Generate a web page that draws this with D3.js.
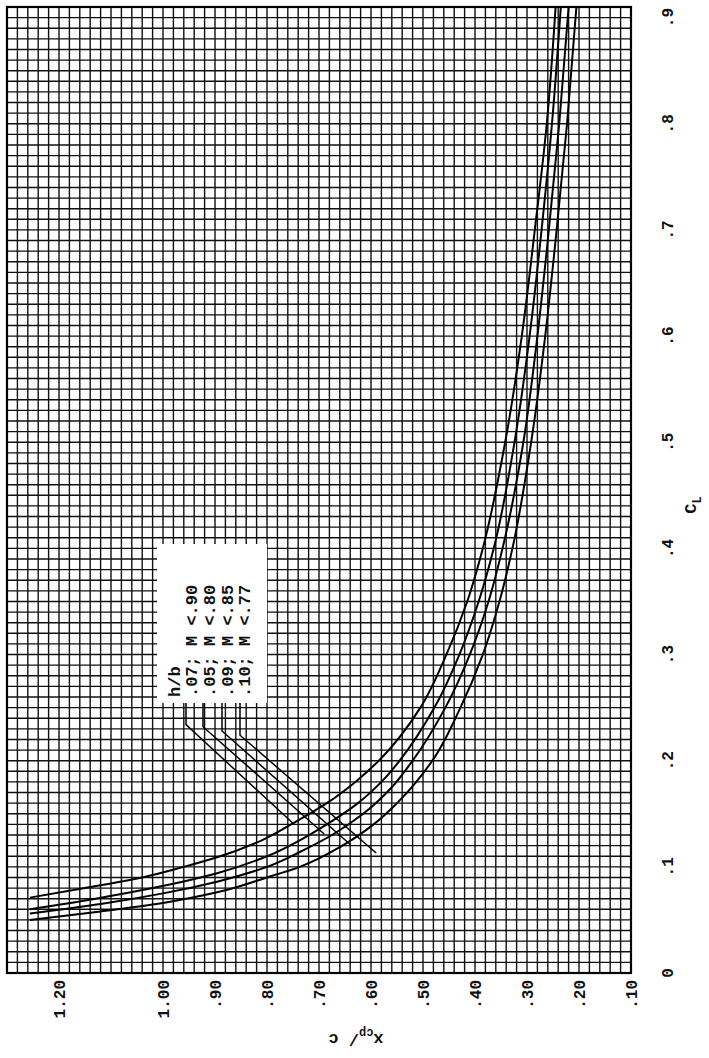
<!DOCTYPE html>
<html><head><meta charset="utf-8">
<script src="https://cdn.jsdelivr.net/npm/d3@7"></script>
<style>body{margin:0;background:#fff}svg{display:block}</style>
</head><body>
<svg id="chart" width="709" height="1058"></svg>
<script>
// ---- data ----
const xTicks = [0, 0.1, 0.2, 0.3, 0.4, 0.5, 0.6, 0.7, 0.8, 0.9];
const xTickLabels = ["0", ".1", ".2", ".3", ".4", ".5", ".6", ".7", ".8", ".9"];
const yTicks = [0.10, 0.20, 0.30, 0.40, 0.50, 0.60, 0.70, 0.80, 0.90, 1.00, 1.20];
const yTickLabels = [".10", ".20", ".30", ".40", ".50", ".60", ".70", ".80", ".90", "1.00", "1.20"];
const legendTitle = "h/b";
const seriesNames = [".07; M <.90", ".05; M <.80", ".09; M <.85", ".10; M <.77"];
const curveA_cl  = [0.071,0.08,0.09,0.10,0.109,0.125,0.141,0.16,0.18,0.20,0.25,0.30,0.35,0.40,0.50,0.60,0.70,0.80,0.91];
const curveA_xcp = [1.256,1.15,1.04,0.96,0.896,0.81,0.75,0.685,0.63,0.585,0.505,0.455,0.415,0.385,0.342,0.31,0.285,0.262,0.245];
const curveB_cl  = [0.06,0.07,0.08,0.094,0.11,0.125,0.14,0.16,0.18,0.20,0.25,0.30,0.35,0.40,0.50,0.60,0.70,0.80,0.91];
const curveB_xcp = [1.256,1.13,1.02,0.896,0.80,0.737,0.685,0.625,0.58,0.545,0.478,0.43,0.393,0.364,0.324,0.295,0.272,0.252,0.235];
const curveC_cl  = [0.056,0.065,0.075,0.086,0.10,0.114,0.13,0.15,0.175,0.20,0.25,0.30,0.35,0.40,0.50,0.60,0.70,0.80,0.91];
const curveC_xcp = [1.256,1.12,1.0,0.896,0.80,0.737,0.675,0.615,0.56,0.52,0.457,0.41,0.374,0.347,0.307,0.28,0.258,0.238,0.22];
const curveD_cl  = [0.05,0.058,0.066,0.076,0.09,0.10,0.12,0.14,0.16,0.20,0.25,0.30,0.35,0.40,0.50,0.60,0.70,0.80,0.91];
const curveD_xcp = [1.256,1.12,1.0,0.896,0.80,0.737,0.655,0.595,0.55,0.482,0.428,0.385,0.353,0.328,0.292,0.265,0.243,0.223,0.205];
// leader lines: bend C_L, end C_L, end x_cp
const leaderBendCl = [0.234, 0.232, 0.228, 0.224];
const leaderEndCl  = [0.141, 0.131, 0.121, 0.113];
const leaderEndXcp = [0.750, 0.690, 0.640, 0.590];

// ---- layout (chart drawn in landscape, then rotated) ----
const W0 = 1058, H0 = 709;
const svg = d3.select("#chart");
const g = svg.append("g").attr("transform", `translate(0,${W0}) rotate(-90)`);
const x = d3.scaleLinear().domain([0, 0.91]).range([85, 1051]);
const y = d3.scaleLinear().domain([0.10, 1.30]).range([631, 7]);
const font = "'Liberation Mono','DejaVu Sans Mono',monospace";

// grid
const grid = g.append("g");
d3.range(0, 92).forEach(i => {
  const v = i / 100;
  grid.append("line").attr("x1", x(v)).attr("x2", x(v)).attr("y1", y(0.10)).attr("y2", y(1.30))
    .attr("stroke", "#111").attr("stroke-width", 1.4);
});
d3.range(0, 61).forEach(i => {
  const v = 0.10 + i * 0.02;
  grid.append("line").attr("x1", x(0)).attr("x2", x(0.91)).attr("y1", y(v)).attr("y2", y(v))
    .attr("stroke", "#111").attr("stroke-width", 1.4);
});

// legend box
const lbx = 355, lby = 157;
g.append("rect").attr("x", lbx).attr("y", lby).attr("width", 159).attr("height", 110).attr("fill", "#fff");

// curves
const series = [[curveA_cl, curveA_xcp],[curveB_cl, curveB_xcp],[curveC_cl, curveC_xcp],[curveD_cl, curveD_xcp]];
const line = d3.line().x(d => x(d[0])).y(d => y(d[1])).curve(d3.curveMonotoneX);
series.forEach(([cl, xc]) => {
  g.append("path").datum(cl.map((c, i) => [c, xc[i]])).attr("d", line)
    .attr("fill", "none").attr("stroke", "#000").attr("stroke-width", 2);
});

// legend text
g.append("text").attr("x", lbx + 6).attr("y", 180).attr("font-family", font).attr("font-size", 17)
  .attr("font-weight", "bold").attr("fill", "#111").text(legendTitle);
const rowY = [197, 215, 233, 250];
const leaderV = [186, 203, 222, 240];
seriesNames.forEach((s, i) => {
  g.append("text").attr("x", lbx + 6).attr("y", rowY[i]).attr("font-family", font).attr("font-size", 17)
    .attr("font-weight", "bold").attr("fill", "#111").text(s);
  const vBend = leaderV[i];
  const pts = [[lbx, vBend], [x(leaderBendCl[i]), vBend], [x(leaderEndCl[i]), y(leaderEndXcp[i])]];
  g.append("path").attr("d", d3.line()(pts)).attr("fill", "none").attr("stroke", "#000").attr("stroke-width", 1.5);
});

// frame
g.append("rect").attr("x", x(0)).attr("y", y(1.30)).attr("width", x(0.91) - x(0)).attr("height", y(0.10) - y(1.30))
  .attr("fill", "none").attr("stroke", "#000").attr("stroke-width", 2.2);

// x tick labels
xTicks.forEach((t, i) => {
  g.append("text").attr("x", x(t)).attr("y", 673).attr("text-anchor", "middle")
    .attr("font-family", font).attr("font-size", 16).attr("font-weight", "bold").attr("fill", "#111").text(xTickLabels[i]);
});
// y tick labels
yTicks.forEach((t, i) => {
  g.append("text").attr("x", 78).attr("y", y(t) + 6).attr("text-anchor", "end")
    .attr("font-family", font).attr("font-size", 16).attr("font-weight", "bold").attr("fill", "#111").text(yTickLabels[i]);
});
// axis titles
const xt = g.append("text").attr("x", 553).attr("y", 696).attr("text-anchor", "middle")
  .attr("font-family", font).attr("font-size", 17).attr("font-weight", "bold").attr("fill", "#111");
xt.append("tspan").text("C");
xt.append("tspan").attr("dy", 5).attr("font-size", 12).text("L");
const yt = g.append("text").attr("transform", `translate(24,356) rotate(-90)`).attr("text-anchor", "middle")
  .attr("font-family", font).attr("font-size", 17).attr("font-weight", "bold").attr("fill", "#111");
yt.append("tspan").text("x");
yt.append("tspan").attr("dy", 5).attr("font-size", 12).text("cp");
yt.append("tspan").attr("dy", -5).text("/ c");
</script>
</body></html>
